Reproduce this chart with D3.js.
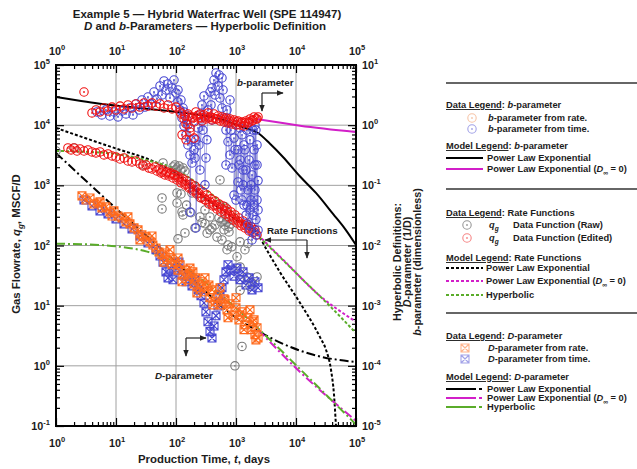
<!DOCTYPE html>
<html>
<head>
<meta charset="utf-8">
<script src="https://cdn.jsdelivr.net/npm/d3@7"></script>
<style>
  body { margin: 0; background: #fff; }
  svg text { font-family: "Liberation Sans", Arial, Helvetica, sans-serif; font-weight: bold; fill: #1c1c1c; }
</style>
</head>
<body>
<svg id="chart" width="637" height="469"></svg>
<script>
// ---- data: [time (days), value] ----
const rateRaw = [
  [1,3720],[2.0,4180],[28.2,2180],[60.8,2360],[58.5,618],[58.5,405],[104,748],[104,510],[121,720],
  [126,361],[131,322],[141,162],[108,129],[184,748],[207,196],[251,299],[368,182],[368,299],[398,196],
  [447,220],[482,138],[482,472],[584,124],[708,85],[735,102],[851,95],[1040,65],[1170,115],[1170,44],
  [1170,27],[1170,18],[1410,85],[1520,30],[1580,108],[1850,24],[1710,21],[2240,30],[1260,2.1],[960,1.0],
  [251,630],[304,390],[541,1230],[656,440],[150,470],[178,350],[304,230],[271,240],[330,160],
  [89,2020],[96,2180],[104,1940],[112,2100],[121,1800],[131,1940],[141,1730],[100,1800],
  [521,287],[562,246],[608,266],[656,220],[708,246],[764,204],[825,228],[631,182],[764,168]
];
const rateEdited = [
  [1.58,4180],[1.78,3870],[2.0,4180],[2.24,3720],[2.51,4020],[2.93,3720],[3.41,3870],[3.98,3590],
  [4.64,3450],[5.41,3590],[6.31,3200],[7.36,3330],[8.58,3080],[10,2960],[11.7,2740],[13.6,2850],
  [15.8,2540],[18.5,2450],[21.5,2540],[25.1,2270],[28.2,2100],[31.6,2180],[35.5,1940],[39.8,1870],
  [44.7,2020],[48.1,1730],[52,1870],[56.2,1610],[60.8,1800],[65.5,1490],[70.8,1670],[76.6,1430],
  [82.5,1610],[89.1,1330],[96.2,1490],[104,1230],[112,1380],[121,1100],[131,1280],[141,1016],
  [152,1180],[165,906],[178,1050],[191,807],[207,977],[223,719],[241,871],[261,618],[281,777],
  [304,572],[328,693],[354,491],[383,596],[413,455],[447,550],[482,405],[521,491],[562,361],
  [608,455],[656,335],[708,405],[764,299],[825,361],[891,266],[962,322],[1040,237],[1120,287],
  [1210,212],[1310,256],[1410,196],[1520,228],[1650,175],[1780,204],[1920,162],[2070,182],[2240,150],
  [58.4,1670],[68.1,1610],[79.4,1545],[92.6,1490],[108,1330],[126,1183],[147,1055],[171,940],
  [200,839],[233,748],[271,641],[316,572],[369,530],[430,472],[501,438],[584,405],[681,376],
  [794,322],[926,287],[1080,256],[1260,228],[1470,212],[1710,189],[2000,168]
];
const bFromTime = [
  [4.8,1.66],[5.8,1.48],[6.8,1.79],[7.9,1.42],[9.3,1.66],[10.8,1.37],[12.6,1.72],[14.7,1.54],
  [17.1,1.93],[19.2,1.48],[21.5,2.25],[24.2,1.79],[27.1,2.62],[30.4,2.0],[34.1,2.94],[38.3,2.25],
  [43,3.56],[48.2,2.72],[54.1,4.48],[58.4,3.18],[63.1,5.43],[68.1,3.84],[73.6,4.83],[79.4,2.83],
  [85.8,4.15],[92.6,5.63],[100,3.43],[108,2.43],[117,1.79],[126,1.32],[136,0.97],[147,0.69],
  [158,0.47],[171,0.32],[185,0.235],[200,0.39],[215,0.57],[233,0.90],[251,1.48],[271,2.17],
  [293,3.06],[316,0.285],[341,1.79],[369,3.56],[398,1.22],[430,5.63],[464,7.36],[501,4.48],
  [541,2.83],[584,1.93],[631,1.32],[681,0.83],[736,0.53],[794,0.32],[858,0.195],[926,0.61],
  [1000,1.01],[1080,0.39],[1170,0.264],[1260,0.69],[1360,0.47],[1470,0.18],[1580,0.084],[1710,0.039],
  [1850,0.149],[2000,0.39],[2150,0.83],[2240,0.057],[2330,0.018],[1580,0.022],[1360,0.047],
  [1080,0.114],[1000,0.057],[1850,0.0124],[926,0.069],[171,0.036],[215,0.0196],[304,0.102],
  [251,0.18],[681,0.218],[1170,0.90],[794,2.62],[584,6.08],[398,4.15],[158,1.01],[136,1.66],
  [1710,0.57],[1780,0.102],[1920,0.032],[2070,0.218],[2150,0.015],[2240,0.47],[2330,0.12],
  [2000,0.047],[2070,1.0],[1210,0.084],[1310,0.18],[1410,0.39],[1520,0.047],[1520,0.83],
  [108,3.84],[121,2.62],[131,1.93],[152,1.22],[178,0.57],[207,0.285],[241,0.47],[281,0.83],
  [328,0.57],[383,2.17],[447,3.18],[521,6.82],[608,3.84],[708,1.79],[825,0.83],[962,0.39],
  [1120,0.218],[1310,0.102],[1650,0.264],[1780,0.057],[1920,0.83],[2070,0.084],[2240,0.218],
  [2330,0.039],[2150,0.027],[1710,0.018],[1470,0.032],[1260,0.057]
];
const bFromRate = [
  [2.93,3.56],[3.98,1.60],[4.64,1.79],[5.41,1.66],[6.31,1.93],[7.36,1.72],[8.58,2.0],[10,1.79],
  [11.7,2.08],[13.6,1.86],[15.8,2.17],[18.5,1.93],[21.5,2.25],[25.1,2.0],[29.3,2.34],[34.1,2.08],
  [39.8,2.34],[46.4,2.08],[54.1,2.25],[63.1,1.93],[73.6,2.17],[85.8,1.86],[100,2.0],[117,1.66],
  [136,1.27],[147,1.05],[158,1.54],[171,0.90],[185,1.37],[200,1.13],[215,1.66],[233,1.32],
  [251,1.54],[271,1.175],[293,1.48],[316,1.27],[341,1.60],[369,1.37],[398,1.22],[430,1.54],
  [464,1.27],[501,1.42],[541,1.175],[584,1.37],[631,1.13],[681,1.32],[736,1.09],[794,1.27],
  [858,1.05],[926,1.22],[1000,1.01],[1080,1.175],[1170,1.01],[1260,1.13],[1360,0.97],[1470,1.175],
  [1580,1.09],[1710,1.27],[1850,1.175],[2000,1.37],[2150,1.27],[2330,1.37],
  [126,0.69],[147,0.57],[171,0.77],[200,0.61],
  [121,1.54],[141,1.42],[165,1.42],[191,1.32],[223,1.42],[261,1.32],[304,1.37],[354,1.32],
  [413,1.32],[482,1.27],[562,1.27],[656,1.22],[764,1.175],[891,1.13],[1040,1.13],[1210,1.09],
  [1410,1.09],[1650,1.13],[1920,1.22],[2240,1.27]
];
const dFromRate = [
  [2.71,0.0667],[3.16,0.0572],[3.69,0.0617],[4.30,0.049],[5.01,0.051],[5.84,0.0422],[6.81,0.0438],
  [7.94,0.0361],[9.26,0.0376],[10.8,0.031],[12.6,0.0287],[14.7,0.0247],[17.1,0.0229],[20.0,0.0196],
  [23.3,0.0182],[27.1,0.0150],[31.6,0.0139],[36.9,0.0115],[41.2,0.0102],[46.4,0.0091],[52.0,0.0078],
  [58.4,0.0070],[65.5,0.0075],[70.8,0.0058],[79.4,0.0062],[85.8,0.0048],[96.2,0.0053],[108,0.0039],
  [117,0.0048],[131,0.00325],[147,0.0039],[158,0.0027],[178,0.0034],[200,0.0023],[215,0.0029],
  [241,0.00198],[271,0.0025],[293,0.0017],[328,0.00205],[369,0.00135],[398,0.00183],[447,0.00116],
  [501,0.0015],[562,0.00103],[631,0.0013],[708,0.00085],[794,0.00107],[891,0.0007],[1000,0.00092],
  [1120,0.00058],[1260,0.00079],[1410,0.00048],[1580,0.00063],[1780,0.0004],[1920,0.00054],
  [2070,0.00033],[2240,0.00043],[2330,0.00029],
  [5.41,0.053],[8.58,0.031],[15.8,0.0299],[25.1,0.0124],[39.8,0.0144],[63.1,0.0053],[79.4,0.0085],
  [126,0.0025],[171,0.0042],[223,0.00163],[304,0.0029],[413,0.00103],[541,0.00198],[736,0.00063],
  [1000,0.00135],[1360,0.0004],[1710,0.00085],[2150,0.00027],[2000,0.00058],[108,0.0062],
  [191,0.00364],[354,0.0022],[656,0.00125],[1170,0.0007]
];
const dFromTime = [
  [2.93,0.0572],[3.98,0.0455],[5.41,0.0376],[7.36,0.0335],[10,0.0277],[13.6,0.0229],[18.5,0.0189],
  [25.1,0.0144],[34.1,0.0110],[46.4,0.0085],[54.1,0.0067],[60.8,0.0053],[68.1,0.00364],[73.6,0.0029],
  [79.4,0.0042],[89.1,0.0027],[100,0.0039],[112,0.0053],[126,0.00325],[147,0.0025],[165,0.0031],
  [185,0.00213],[207,0.0027],[233,0.00183],[261,0.00146],[293,0.00111],[316,0.00079],[341,0.00054],
  [369,0.00037],[398,0.00029],[430,0.00046],[464,0.00068],[501,0.00099],[541,0.00146],[584,0.00198],
  [631,0.0027],[681,0.00364],[736,0.0048],[825,0.0039],[926,0.0031],[1040,0.0042],[1170,0.0027],
  [1310,0.00364],[1470,0.0022],[1650,0.0029],[1850,0.00183],[2070,0.0025],[2330,0.00198]
];

// ---- model curves ----
const bModelPLE = [[1,2.94],[2.07,2.62],[4.46,2.34],[17.1,2.0],[141,1.6],[541,1.27],[1410,0.90],[2330,0.74],
  [3690,0.49],[6070,0.296],[11700,0.14],[21500,0.0748],[41400,0.0335],[65600,0.0189],[100000,0.0102]];
const bModelPLE0 = [[2330,1.25],[11700,0.98],[100000,0.77]];
const rateModelPLE = [[1,9000],[3.04,6120],[10,4090],[36.9,2640],[100,1600],[251,720],[1000,270],[2330,150],
  [3410,78],[5400,36],[11700,11.1],[25100,3.0],[31600,1.85],[38300,0.86],[43000,0.33],[46400,0.1],[48100,0.058]];
const rateModelPLE0 = [[2330,150],[7080,50],[22400,16],[100000,5.4]];
const rateModelHyp = [[1,3720],[3.69,3590],[12.6,3200],[36.9,2540],[85.8,1980],[251,1000],[1000,320],
  [2330,144],[5400,64],[11700,30],[36900,9.8],[100000,3.5]];
const dModelPLE = [[1,0.345],[7.94,0.051],[100,0.0053],[1000,0.00063],[2330,0.00038],[6070,0.000232],
  [22400,0.000147],[100000,0.000116]];
const dModelPLE0 = [[2330,0.0004],[11700,0.000079],[100000,0.0000122]];
const dModelHyp = [[1,0.0107],[3.7,0.0104],[10,0.0097],[33,0.0079],[100,0.0052],[300,0.0025],[1000,0.00091],
  [2330,0.00042],[11700,0.000088],[100000,0.0000106]];

// ---- axis ticks ----
const xMajor = [1, 10, 100, 1e3, 1e4, 1e5];
const rateMajor = [0.1, 1, 10, 100, 1e3, 1e4, 1e5];
const parMajor = [1e-5, 1e-4, 1e-3, 1e-2, 1e-1, 1, 10];

const plot = { left: 56, right: 356, top: 65, bottom: 426 };
const x = d3.scaleLog().domain([1, 1e5]).range([plot.left, plot.right]);
const yRate = d3.scaleLog().domain([0.1, 1e5]).range([plot.bottom, plot.top]);
const yPar = d3.scaleLog().domain([1e-5, 10]).range([plot.bottom, plot.top]);

const svg = d3.select("#chart");
const defs = svg.append("defs");
defs.append("clipPath").attr("id", "plotClip").append("rect")
  .attr("x", plot.left).attr("y", plot.top)
  .attr("width", plot.right - plot.left).attr("height", plot.bottom - plot.top);
defs.append("marker").attr("id", "arrow").attr("viewBox", "0 0 10 10")
  .attr("refX", 9).attr("refY", 5).attr("markerUnits", "userSpaceOnUse")
  .attr("markerWidth", 7).attr("markerHeight", 7).attr("orient", "auto")
  .append("path").attr("d", "M0,1L10,5L0,9z").attr("fill", "#222");

// text with italic / sub / sup pieces
function rich(sel, parts) {
  let shift = 0;
  parts.forEach(p => {
    if (typeof p === "string") p = { t: p };
    const target = p.sub ? 3 : p.sup ? -5 : 0;
    const s = sel.append("tspan").text(p.t);
    if (target !== shift) { s.attr("dy", target - shift); shift = target; }
    if (p.i) s.attr("font-style", "italic");
    if (p.u) s.attr("text-decoration", "underline");
    if (p.sub || p.sup) s.attr("font-size", "0.7em");
  });
  return sel;
}

// ---- titles ----
rich(svg.append("text").attr("x", 207).attr("y", 18).attr("text-anchor", "middle").attr("font-size", 11.5),
  ["Example 5 \u2014 Hybrid Waterfrac Well (SPE 114947)"]);
rich(svg.append("text").attr("x", 205).attr("y", 30).attr("text-anchor", "middle").attr("font-size", 11.5),
  [{ t: "D", i: true }, " and ", { t: "b", i: true }, "-Parameters \u2014 Hyperbolic Definition"]);
rich(svg.append("text").attr("x", 204).attr("y", 463).attr("text-anchor", "middle").attr("font-size", 11.4),
  ["Production Time, ", { t: "t", i: true }, ", days"]);
rich(svg.append("text").attr("transform", "translate(20,244) rotate(-90)").attr("text-anchor", "middle").attr("font-size", 11.4),
  ["Gas Flowrate, ", { t: "q", i: true }, { t: "g", i: true, sub: true }, ", MSCF/D"]);
rich(svg.append("text").attr("transform", "translate(401,262) rotate(-90)").attr("text-anchor", "middle").attr("font-size", 10.8),
  ["Hyperbolic Definitions:"]);
rich(svg.append("text").attr("transform", "translate(411,262) rotate(-90)").attr("text-anchor", "middle").attr("font-size", 10.8),
  [{ t: "D", i: true }, "-parameter (1/D)"]);
rich(svg.append("text").attr("transform", "translate(421,262) rotate(-90)").attr("text-anchor", "middle").attr("font-size", 10.8),
  [{ t: "b", i: true }, "-parameter (dimensionless)"]);

// ---- grid ----
const grid = svg.append("g").attr("stroke", "#a0a0a0").attr("stroke-width", 1);
grid.selectAll("line.v").data(xMajor).join("line").attr("class", "v")
  .attr("x1", d => x(d)).attr("x2", d => x(d)).attr("y1", plot.top).attr("y2", plot.bottom);
grid.selectAll("line.h").data(rateMajor).join("line").attr("class", "h")
  .attr("y1", d => yRate(d)).attr("y2", d => yRate(d)).attr("x1", plot.left).attr("x2", plot.right);

// ---- axes (ticks inward, labels drawn separately) ----
function minorOf(major) {
  const out = [];
  for (let i = 0; i < major.length - 1; i++) for (let m = 2; m < 10; m++) out.push(major[i] * m);
  return out;
}
function addAxis(axisFn, scale, major, transform) {
  [[major, 8], [minorOf(major), 4]].forEach(([vals, size]) => {
    svg.append("g").attr("transform", transform)
      .call(axisFn(scale).tickValues(vals).tickSizeInner(-size).tickSizeOuter(0).tickFormat(""))
      .call(g => g.select(".domain").remove())
      .call(g => g.selectAll("line").attr("stroke-width", 1.2));
  });
}
addAxis(d3.axisBottom, x, xMajor, `translate(0,${plot.bottom})`);
addAxis(d3.axisTop, x, xMajor, `translate(0,${plot.top})`);
addAxis(d3.axisLeft, yRate, rateMajor, `translate(${plot.left},0)`);
addAxis(d3.axisRight, yPar, parMajor, `translate(${plot.right},0)`);

const exp10 = v => String(Math.round(Math.log10(v)));
const labels = svg.append("g").attr("font-size", 10.8);
xMajor.forEach(v => {
  rich(labels.append("text").attr("x", x(v) + 1).attr("y", 447).attr("text-anchor", "middle"), ["10", { t: exp10(v), sup: true }]);
  rich(labels.append("text").attr("x", x(v) + 1).attr("y", 55).attr("text-anchor", "middle"), ["10", { t: exp10(v), sup: true }]);
});
rateMajor.forEach(v => {
  rich(labels.append("text").attr("x", 50).attr("y", yRate(v) + 4).attr("text-anchor", "end"), ["10", { t: exp10(v), sup: true }]);
});
parMajor.forEach(v => {
  rich(labels.append("text").attr("x", 362).attr("y", yPar(v) + 4).attr("text-anchor", "start"), ["10", { t: exp10(v), sup: true }]);
});

// ---- plot contents ----
const area = svg.append("g").attr("clip-path", "url(#plotClip)");
const byTime = a => a.slice().sort((p, q) => p[0] - q[0]);

function curve(data, y, color, dash) {
  area.append("path").datum(data)
    .attr("d", d3.line().x(d => x(d[0])).y(d => y(d[1])).curve(d3.curveMonotoneX))
    .attr("fill", "none").attr("stroke", color).attr("stroke-width", 2)
    .attr("stroke-dasharray", dash);
}
const MAG = "#d21fc8", GRN = "#5aac2a", DOTS = "3,2", DASHDOT = "9,3,2,3";
curve(bModelPLE, yPar, "#000", null);
curve(bModelPLE0, yPar, MAG, null);
curve(rateModelPLE, yRate, "#000", DOTS);
curve(rateModelPLE0, yRate, MAG, DOTS);
curve(rateModelHyp, yRate, GRN, DOTS);
curve(dModelPLE, yPar, "#000", DASHDOT);
curve(dModelPLE0, yPar, MAG, DASHDOT);
curve(dModelHyp, yPar, GRN, DASHDOT);

function joinLine(data, y, color) {
  area.append("path").datum(byTime(data))
    .attr("d", d3.line().x(d => x(d[0])).y(d => y(d[1])))
    .attr("fill", "none").attr("stroke", color).attr("stroke-width", 0.5).attr("opacity", 0.75);
}
function circles(parent, data, y, color) {
  const g = parent.append("g");
  g.selectAll("circle.ring").data(data).join("circle").attr("class", "ring")
    .attr("cx", d => x(d[0])).attr("cy", d => y(d[1])).attr("r", 4.2)
    .attr("fill", "none").attr("stroke", color).attr("stroke-width", 1.1);
  g.selectAll("circle.dot").data(data).join("circle").attr("class", "dot")
    .attr("cx", d => x(d[0])).attr("cy", d => y(d[1])).attr("r", 0.9).attr("fill", color);
  return g;
}
function squares(parent, data, y, color) {
  return parent.append("g").selectAll("path").data(data).join("path")
    .attr("transform", d => `translate(${x(d[0])},${y(d[1])})`)
    .attr("d", "M-4,-4h8v8h-8zM-4,-4L4,4M4,-4L-4,4")
    .attr("fill", "none").attr("stroke", color).attr("stroke-width", 1.1);
}

const RED = "#f01010", BLUE = "#4646d2", GRAY = "#7a7a7a", ORANGE = "#ff6a1c";
circles(area, rateRaw, yRate, GRAY);
circles(area, rateEdited, yRate, RED);
joinLine(bFromTime, yPar, "#2a2ab8");
circles(area, bFromTime, yPar, BLUE);
circles(area, bFromRate, yPar, RED);
joinLine(dFromTime, yPar, "#1a1aa8");
squares(area, dFromTime, yPar, BLUE);
squares(area, dFromRate, yPar, ORANGE);

// frame
svg.append("rect").attr("x", plot.left).attr("y", plot.top)
  .attr("width", plot.right - plot.left).attr("height", plot.bottom - plot.top)
  .attr("fill", "none").attr("stroke", "#000").attr("stroke-width", 2);

// ---- annotations ----
const notes = svg.append("g").attr("font-size", 9.8);
function elbow(cx, cy, dx, dy) {
  notes.append("line").attr("x1", cx).attr("y1", cy).attr("x2", cx + dx).attr("y2", cy)
    .attr("stroke", "#222").attr("stroke-width", 1.2).attr("marker-end", "url(#arrow)");
  notes.append("line").attr("x1", cx).attr("y1", cy).attr("x2", cx).attr("y2", cy + dy)
    .attr("stroke", "#222").attr("stroke-width", 1.2).attr("marker-end", "url(#arrow)");
}
rich(notes.append("text").attr("x", 237).attr("y", 86), [{ t: "b", i: true }, "-parameter"]);
elbow(262, 93, 21, 18);
rich(notes.append("text").attr("x", 267).attr("y", 234), ["Rate Functions"]);
elbow(307, 240, -42, 18);
rich(notes.append("text").attr("x", 155).attr("y", 379), [{ t: "D", i: true }, "-parameter"]);
elbow(186, 338, 20, 18);

// ---- legend ----
const leg = svg.append("g").attr("font-size", 9.3);
[83, 189, 313].forEach(y => leg.append("line").attr("x1", 446).attr("x2", 637).attr("y1", y).attr("y2", y)
  .attr("stroke", "#333").attr("stroke-width", 1.5));
function legText(xp, yp, parts) { rich(leg.append("text").attr("x", xp).attr("y", yp), parts); }
function legLine(yp, color, dash, dotEnd) {
  leg.append("line").attr("x1", 446).attr("x2", dotEnd ? 476 : 483).attr("y1", yp).attr("y2", yp)
    .attr("stroke", color).attr("stroke-width", 2).attr("stroke-dasharray", dash);
  if (dotEnd) leg.append("line").attr("x1", 479).attr("x2", 482).attr("y1", yp).attr("y2", yp)
    .attr("stroke", color).attr("stroke-width", 2);
}
const faded = g => g.attr("opacity", 0.5);

legText(446, 108, [{ t: "Data Legend", u: true }, ": ", { t: "b", i: true }, "-parameter"]);
faded(circles(leg, [[1, 1]], () => 118, "#f08a50")).attr("transform", `translate(${472 - x(1)},0)`);
legText(488, 121, [{ t: "b", i: true }, "-parameter from rate."]);
faded(circles(leg, [[1, 1]], () => 129, BLUE)).attr("transform", `translate(${472 - x(1)},0)`);
legText(488, 132, [{ t: "b", i: true }, "-parameter from time."]);
legText(446, 149, [{ t: "Model Legend", u: true }, ": ", { t: "b", i: true }, "-parameter"]);
legLine(158, "#000", null);
legText(487, 161, ["Power Law Exponential"]);
legLine(169, MAG, null);
legText(487, 172, ["Power Law Exponential (", { t: "D", i: true }, { t: "\u221e", sub: true }, " = 0)"]);

legText(446, 216, [{ t: "Data Legend", u: true }, ": Rate Functions"]);
faded(circles(leg, [[1, 1]], () => 225, "#333")).attr("transform", `translate(${467 - x(1)},0)`);
legText(489, 228, [{ t: "q", i: true }, { t: "g", i: true, sub: true }]);
legText(513, 228, ["Data Function (Raw)"]);
faded(circles(leg, [[1, 1]], () => 238, RED)).attr("transform", `translate(${467 - x(1)},0)`);
legText(489, 241, [{ t: "q", i: true }, { t: "g", i: true, sub: true }]);
legText(513, 241, ["Data Function (Edited)"]);
legText(446, 261, [{ t: "Model Legend", u: true }, ": Rate Functions"]);
legLine(268, "#000", DOTS);
legText(486, 271, ["Power Law Exponential"]);
legLine(281, MAG, DOTS);
legText(486, 284, ["Power Law Exponential (", { t: "D", i: true }, { t: "\u221e", sub: true }, " = 0)"]);
legLine(295, GRN, DOTS);
legText(486, 298, ["Hyperbolic"]);

legText(446, 339, [{ t: "Data Legend", u: true }, ": ", { t: "D", i: true }, "-parameter"]);
faded(squares(leg, [[1, 1]], () => 348, ORANGE)).attr("transform", `translate(465,348)`);
legText(488, 351, [{ t: "D", i: true }, "-parameter from rate."]);
faded(squares(leg, [[1, 1]], () => 359, BLUE)).attr("transform", `translate(465,359)`);
legText(488, 362, [{ t: "D", i: true }, "-parameter from time."]);
legText(446, 380, [{ t: "Model Legend", u: true }, ": ", { t: "D", i: true }, "-parameter"]);
legLine(389, "#000", null, true);
legText(487, 392, ["Power Law Exponential"]);
legLine(398, MAG, null, true);
legText(487, 401, ["Power Law Exponential (", { t: "D", i: true }, { t: "\u221e", sub: true }, " = 0)"]);
legLine(407, GRN, null, true);
legText(487, 410, ["Hyperbolic"]);
</script>
</body>
</html>
